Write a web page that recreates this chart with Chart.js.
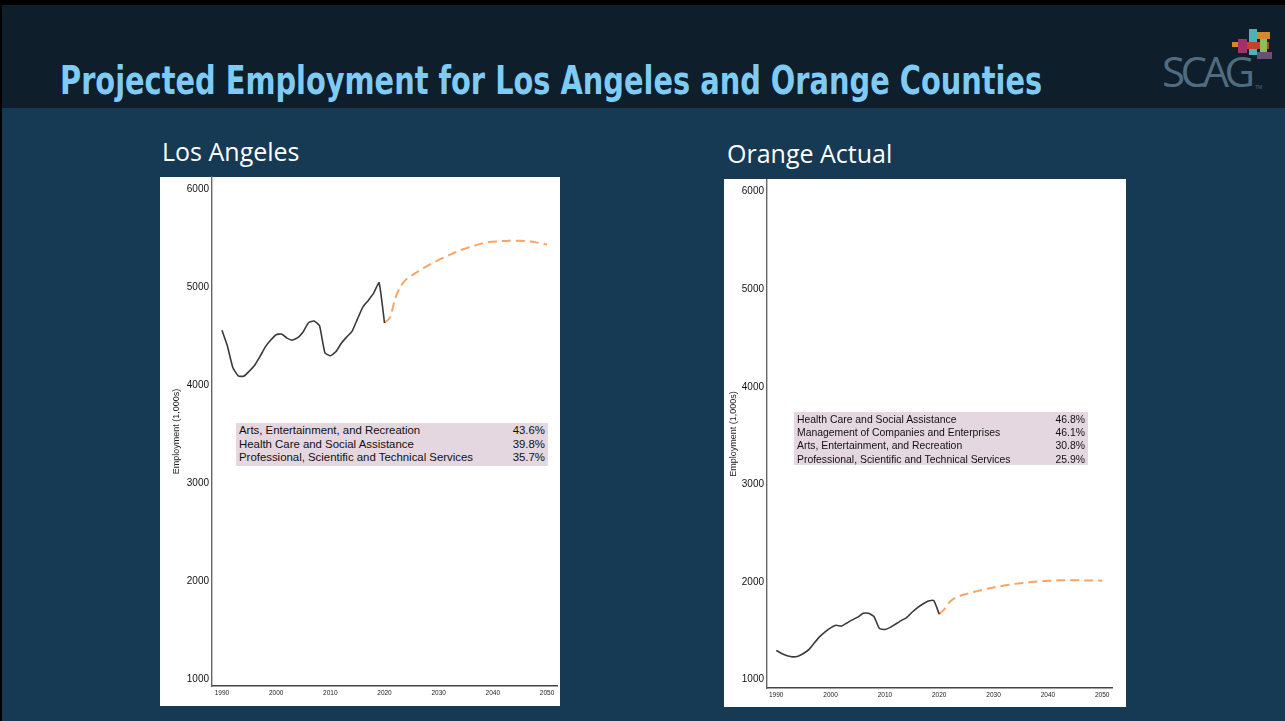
<!DOCTYPE html>
<html>
<head>
<meta charset="utf-8">
<script src="https://cdn.jsdelivr.net/npm/chart.js@4"></script>
<style>
  html, body { margin: 0; padding: 0; }
  body { width: 1285px; height: 721px; background: #000; position: relative; overflow: hidden; font-family: "Liberation Sans", Arial, sans-serif; }
  #header { position: absolute; left: 2px; top: 5px; width: 1283px; height: 103px; background: #0e1e2a; }
  #main { position: absolute; left: 2px; top: 108px; width: 1283px; height: 613px; background: #163a53; }
  #title { position: absolute; left: 60px; top: 59px; white-space: nowrap; color: #80cbf4;
           font-family: "Liberation Sans Narrow", "DejaVu Sans Condensed", sans-serif; font-weight: bold;
           font-size: 39px; line-height: 44px; transform-origin: 0 0; }
  .sub { position: absolute; color: #fff; font-family: "Open Sans", sans-serif; font-size: 25px; line-height: 30px; white-space: nowrap; }
  .panel { position: absolute; background: #fff; }
  .cv { position: absolute; }
  .box { position: absolute; background: #e4d7df; color: #111; }
  .row { position: absolute; left: 3px; right: 3px; height: 14px; white-space: nowrap; }
  .row span.p { position: absolute; right: 0; top: 0; }
  #logo { position: absolute; left: 1150px; top: 20px; width: 130px; height: 80px; }
  #logo div { position: absolute; }
  #scag { position: absolute; left: 12px; top: 30px; font-family: "Open Sans", sans-serif; font-weight: 400;
          font-size: 42px; line-height: 42px; color: #506c80; letter-spacing: -4.5px; }
</style>
</head>
<body>
<div id="header"></div>
<div id="main"></div>
<div id="title">Projected Employment for Los Angeles and Orange Counties</div>
<div id="logo">
  <div style="left:99px;top:9px;width:8px;height:26px;background:#4bb3b5"></div>
  <div style="left:107px;top:12px;width:13px;height:7px;background:#d9862a"></div>
  <div style="left:88px;top:19px;width:9px;height:14px;background:#a3306a"></div>
  <div style="left:82px;top:22px;width:6px;height:5px;background:#d9862a"></div>
  <div style="left:97px;top:22px;width:22px;height:7px;background:#c0432b"></div>
  <div style="left:110px;top:19px;width:7px;height:13px;background:#8cbf5a"></div>
  <div style="left:107px;top:32px;width:15px;height:7px;background:#6c4f78"></div>
  <div id="scag">SCAG</div>
  <div style="left:105px;top:64px;font-size:5px;color:#506c80">TM</div>
</div>
<div class="sub" style="left:162px;top:136px">Los Angeles</div>
<div class="sub" style="left:727px;top:138px">Orange Actual</div>
<div class="panel" style="left:160px;top:177px;width:400px;height:529px"></div>
<div class="panel" style="left:724px;top:179px;width:402px;height:528px"></div>
<div class="cv" id="wrapLA"><canvas id="chartLA"></canvas></div>
<div class="cv" id="wrapOC"><canvas id="chartOC"></canvas></div>
<div class="box" id="boxLA"></div>
<div class="box" id="boxOC"></div>

<script>
// years and values
const histYears = [1990, 1991, 1992, 1993, 1994, 1995, 1996, 1997, 1998, 1999,
                   2000, 2001, 2002, 2003, 2004, 2005, 2006, 2007, 2008, 2009,
                   2010, 2011, 2012, 2013, 2014, 2015, 2016, 2017, 2018, 2019, 2020];
const projYears = [2020, 2021, 2022, 2023, 2024, 2025, 2026, 2027, 2028, 2029,
                   2030, 2031, 2032, 2033, 2034, 2035, 2036, 2037, 2038, 2039,
                   2040, 2041, 2042, 2043, 2044, 2045, 2046, 2047, 2048, 2049, 2050];

const laHist = [4560, 4400, 4180, 4095, 4090, 4140, 4200, 4290, 4390, 4460,
                4515, 4522, 4480, 4460, 4485, 4545, 4640, 4655, 4608, 4330,
                4300, 4340, 4425, 4490, 4548, 4674, 4796, 4865, 4940, 5045, 4636];
const laProj = [4636, 4690, 4890, 5010, 5080, 5120, 5155, 5190, 5220, 5250,
                5280, 5305, 5330, 5355, 5378, 5397, 5415, 5432, 5448, 5460,
                5465, 5469, 5472, 5474, 5475, 5474, 5471, 5466, 5458, 5448, 5437];

const ocHist = [1300, 1268, 1245, 1233, 1240, 1268, 1307, 1375, 1440, 1490,
                1530, 1557, 1548, 1580, 1612, 1640, 1680, 1680, 1645, 1523,
                1513, 1535, 1570, 1605, 1636, 1690, 1738, 1775, 1806, 1810, 1670];
const ocProj = [1670, 1725, 1800, 1840, 1862, 1878, 1893, 1907, 1920, 1933,
                1945, 1955, 1964, 1973, 1981, 1988, 1994, 2000, 2005, 2009,
                2012, 2015, 2017, 2018, 2018, 2018, 2017, 2016, 2015, 2015, 2014];

const xTicks = [1990, 2000, 2010, 2020, 2030, 2040, 2050];
const yTicks = [1000, 2000, 3000, 4000, 5000, 6000];
const yTitle = 'Employment (1,000s)';

const laSectors = ['Arts, Entertainment, and Recreation',
                   'Health Care and Social Assistance',
                   'Professional, Scientific and Technical Services'];
const laShares = ['43.6%', '39.8%', '35.7%'];
const ocSectors = ['Health Care and Social Assistance',
                   'Management of Companies and Enterprises',
                   'Arts, Entertainment, and Recreation',
                   'Professional, Scientific and Technical Services'];
const ocShares = ['46.8%', '46.1%', '30.8%', '25.9%'];

// fit title width
const t = document.getElementById('title');
t.style.transform = 'scaleX(' + (982 / t.offsetWidth) + ')';

function pts(xs, ys) { return xs.map((x, i) => ({ x: x, y: ys[i] })); }

function makeChart(id, wrapId, area, panel, range, hist, proj) {
    const m = 12;
    const cx = panel.left - m, cy = panel.top - m;
    const cw = panel.width + 2 * m, ch = panel.height + 2 * m;
    const wrap = document.getElementById(wrapId);
    wrap.style.left = cx + 'px'; wrap.style.top = cy + 'px';
    wrap.style.width = cw + 'px'; wrap.style.height = ch + 'px';

    return new Chart(document.getElementById(id), {
        type: 'line',
        data: {
            datasets: [{
                data: pts(histYears, hist),
                borderColor: '#3a3a3a',
                borderWidth: 1.6,
                pointRadius: 0,
                tension: 0.15
            }, {
                data: pts(projYears, proj),
                borderColor: '#f7a565',
                borderWidth: 2,
                borderDash: [9, 5],
                pointRadius: 0,
                tension: 0.3
            }]
        },
        options: {
            responsive: true,
            maintainAspectRatio: false,
            animation: false,
            devicePixelRatio: 1,
            layout: { padding: { left: m, top: area.top - cy, right: cx + cw - area.right, bottom: m } },
            plugins: { legend: { display: false }, tooltip: { enabled: false } },
            scales: {
                x: {
                    type: 'linear',
                    min: range.xMin, max: range.xMax,
                    grid: { display: false, drawTicks: false },
                    border: { display: true, color: '#444', width: 1.6 },
                    ticks: { color: '#222', font: { size: 6.5, family: 'Liberation Sans' }, padding: 3, maxRotation: 0,
                             callback: v => String(v) },
                    afterBuildTicks: s => { s.ticks = xTicks.map(v => ({ value: v })); },
                    afterFit: s => { s.height = cy + ch - m - area.bottom; }
                },
                y: {
                    type: 'linear',
                    min: range.yMin, max: range.yMax,
                    grid: { display: false, drawTicks: false },
                    border: { display: true, color: '#666', width: 1.4 },
                    ticks: { color: '#111', font: { size: 10, family: 'Liberation Sans' }, padding: 3,
                             callback: v => String(v) },
                    afterBuildTicks: s => { s.ticks = yTicks.map(v => ({ value: v })); },
                    afterFit: s => { s.width = area.left - cx - m; },
                    title: { display: true, text: yTitle, color: '#222',
                             font: { size: 9, family: 'Liberation Sans' }, padding: { top: range.titlePad, bottom: 0 } }
                }
            }
        }
    });
}

makeChart('chartLA', 'wrapLA',
    { left: 212, right: 557, top: 177, bottom: 686 },
    { left: 160, top: 177, width: 400, height: 529 },
    { xMin: 1988.16, xMax: 2051.84, yMin: 926, yMax: 6126, titlePad: 11.5 },
    laHist, laProj);

makeChart('chartOC', 'wrapOC',
    { left: 767, right: 1112, top: 180, bottom: 688 },
    { left: 724, top: 179, width: 402, height: 528 },
    { xMin: 1988.3, xMax: 2051.8, yMin: 914, yMax: 6120, titlePad: 4 },
    ocHist, ocProj);

function makeBox(id, box, names, shares) {
    const el = document.getElementById(id);
    el.style.left = box.left + 'px'; el.style.top = box.top + 'px';
    el.style.width = box.width + 'px'; el.style.height = box.height + 'px';
    el.style.fontSize = box.font + 'px';
    names.forEach((n, i) => {
        const r = document.createElement('div');
        r.className = 'row';
        r.style.top = (box.pad + i * box.step) + 'px';
        r.style.lineHeight = box.step + 'px';
        r.innerHTML = n + '<span class="p">' + shares[i] + '</span>';
        el.appendChild(r);
    });
}

makeBox('boxLA', { left: 236, top: 423, width: 312, height: 43, font: 11.4, step: 13.8, pad: 0.8 }, laSectors, laShares);
makeBox('boxOC', { left: 794, top: 412, width: 294, height: 53, font: 10.4, step: 13.3, pad: 0.7 }, ocSectors, ocShares);
</script>
</body>
</html>
